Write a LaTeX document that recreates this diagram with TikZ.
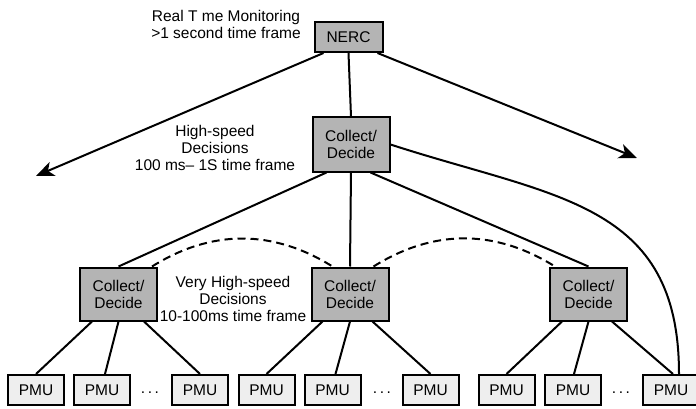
\documentclass[tikz,border=0pt]{standalone}
\usepackage{fontspec}
\setmainfont{Liberation Sans}
\usetikzlibrary{arrows.meta}
\definecolor{boxgray}{RGB}{180,180,180}
\definecolor{pmugray}{RGB}{238,238,238}

\begin{document}
\begin{tikzpicture}[x=1pt,y=1pt,line width=2pt,
    font=\fontsize{15.5}{17}\selectfont,
    box/.style={draw,fill=boxgray,minimum width=77pt,minimum height=53pt,inner sep=0pt,align=center},
    pmu/.style={draw,fill=pmugray,minimum width=56pt,minimum height=30pt,inner sep=0pt},
    lbl/.style={align=center,inner sep=0pt},
    arr/.style={-{Stealth[length=18pt,width=15pt,inset=5pt]}}]
      \useasboundingbox (0,0) rectangle (696,-409);
      \node[box,minimum width=68pt,minimum height=30pt] (nerc) at (348.5,-37) {NERC};
      \node[box,minimum height=54pt] (c0) at (351,-144.5) {Collect/\\Decide};
      \node[box] (c1) at (118.5,-294) {Collect/\\Decide};
      \node[box] (c2) at (350,-294) {Collect/\\Decide};
      \node[box] (c3) at (588.5,-294) {Collect/\\Decide};
      \foreach \n/\x in {p1/36,p2/102,p3/200,p4/266.5,p5/332.5,p6/430.5,p7/506.5,p8/573,p9/671}
        \node[pmu] (\n) at (\x,-390) {PMU};
      \node (d1) at (150,-393) {.\,.\,.}; \node (d2) at (382,-393) {.\,.\,.};
      \node (d3) at (621,-393) {.\,.\,.};
      \coordinate (al) at (36,-176); \coordinate (ar) at (637,-158);
      \draw[arr] ([xshift=10pt]nerc.south west) -- (al);
      \draw[arr] ([xshift=-6pt]nerc.south east) -- (ar);
      \draw (nerc.south) -- (c0.north);
      \draw ([xshift=15pt]c0.south west) -- (c1.north);
      \draw (c0.south) -- (c2.north);
      \draw ([xshift=-20pt]c0.south east) -- (c3.north);
      \draw (c0.east) to[out=-18,in=90,looseness=1.2] ([xshift=8pt]p9.north);
      \draw[dash pattern=on 8pt off 5pt] ([xshift=-6pt]c1.north east) to[bend left=32] ([xshift=22pt]c2.north west);
      \draw[dash pattern=on 8pt off 5pt] ([xshift=-16pt]c2.north east) to[bend left=32] ([xshift=6pt]c3.north west);
      \draw ([xshift=13pt]c1.south west) -- (p1.north);
      \draw (c1.south) -- ([xshift=3pt]p2.north);
      \draw ([xshift=-14pt]c1.south east) -- (p3.north);
      \draw ([xshift=12pt]c2.south west) -- (p4.north);
      \draw (c2.south) -- ([xshift=3pt]p5.north);
      \draw ([xshift=-17pt]c2.south east) -- (p6.north);
      \draw ([xshift=13pt]c3.south west) -- (p7.north);
      \draw (c3.south) -- ([xshift=1pt]p8.north);
      \draw ([xshift=-16pt]c3.south east) -- ([xshift=2pt]p9.north);
      \node[lbl] (rt) at (226,-24.5) {Real T me Monitoring\\>1 second time frame};
      \node[lbl] (hs) at (215,-148) {High-speed\\Decisions\\100 ms– 1S time frame};
      \node[lbl] (vhs) at (233,-298.5) {Very High-speed\\Decisions\\10-100ms time frame};
    \end{tikzpicture}
\end{document}
